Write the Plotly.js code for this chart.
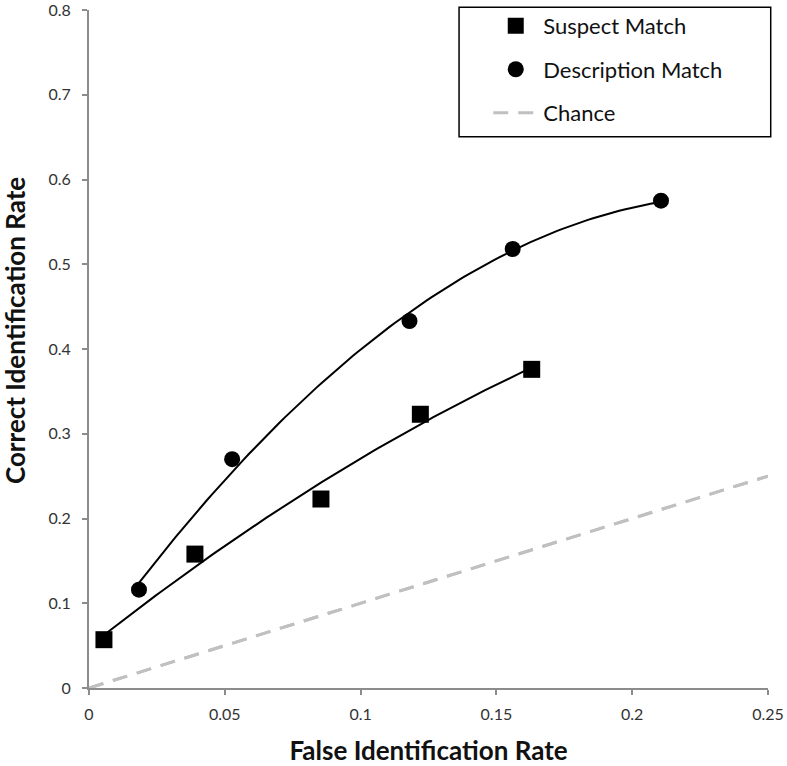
<!DOCTYPE html>
<html>
<head>
<meta charset="utf-8">
<script src="https://cdn.plot.ly/plotly-3.0.1.min.js"></script>
<style>html,body{margin:0;padding:0;background:#fff;}#chart{width:787px;height:766px;}</style>
</head>
<body>
<div id="chart"></div>
<script>
// Data
const suspectFalseId = [0.0055, 0.039, 0.0854, 0.122, 0.163];
const suspectCorrectId = [0.057, 0.158, 0.223, 0.323, 0.376];
const descriptionFalseId = [0.0184, 0.0527, 0.118, 0.156, 0.2106];
const descriptionCorrectId = [0.116, 0.270, 0.433, 0.518, 0.575];
const chanceX = [0, 0.25];
const chanceY = [0, 0.25];
const seriesNames = ["Suspect Match", "Description Match", "Chance"];
const xTitle = 'False Identification Rate';
const yTitle = 'Correct Identification Rate';

// Quadratic least-squares trendline (as in the original spreadsheet trendline)
function quadFit(xs, ys) {
  let s = [0,0,0,0,0], t = [0,0,0];
  for (let i = 0; i < xs.length; i++) {
    let p = 1;
    for (let k = 0; k < 5; k++) { s[k] += p; if (k < 3) t[k] += p * ys[i]; p *= xs[i]; }
  }
  const A = [[s[0],s[1],s[2],t[0]],[s[1],s[2],s[3],t[1]],[s[2],s[3],s[4],t[2]]];
  for (let i = 0; i < 3; i++) {
    for (let j = i + 1; j < 3; j++) {
      const f = A[j][i] / A[i][i];
      for (let k = i; k < 4; k++) A[j][k] -= f * A[i][k];
    }
  }
  const c = [0,0,0];
  for (let i = 2; i >= 0; i--) {
    let v = A[i][3];
    for (let k = i + 1; k < 3; k++) v -= A[i][k] * c[k];
    c[i] = v / A[i][i];
  }
  return c;
}
function trend(xs, ys) {
  const c = quadFit(xs, ys);
  const lo = Math.min(...xs), hi = Math.max(...xs);
  const tx = [], ty = [];
  for (let i = 0; i <= 100; i++) {
    const x = lo + (hi - lo) * i / 100;
    tx.push(x); ty.push(c[0] + c[1] * x + c[2] * x * x);
  }
  return {x: tx, y: ty};
}
const ts = trend(suspectFalseId, suspectCorrectId);
const td = trend(descriptionFalseId, descriptionCorrectId);

const traces = [
  {x: chanceX, y: chanceY, mode: 'lines', name: seriesNames[2], showlegend: false,
   line: {color: '#c0c0c0', width: 3, dash: '15px,10px'}, hoverinfo: 'skip'},
  {x: ts.x, y: ts.y, mode: 'lines', showlegend: false, line: {color: '#000', width: 2}, hoverinfo: 'skip'},
  {x: td.x, y: td.y, mode: 'lines', showlegend: false, line: {color: '#000', width: 2}, hoverinfo: 'skip'},
  {x: suspectFalseId, y: suspectCorrectId, mode: 'markers', name: seriesNames[0], legendgroup: 'a',
   marker: {symbol: 'square', size: 17, color: '#000'}},
  {x: descriptionFalseId, y: descriptionCorrectId, mode: 'markers', name: seriesNames[1], legendgroup: 'b',
   marker: {symbol: 'circle', size: 16, color: '#000'}},
  {x: chanceX, y: chanceY, mode: 'lines', name: seriesNames[2], legendgroup: 'c',
   line: {color: '#c0c0c0', width: 3, dash: '15px,10px'}, hoverinfo: 'skip'}
];

const fam = 'Lato, "Liberation Sans", sans-serif';
const tickFont = {family: fam, size: 16, color: '#333'};
const titleFont = {family: fam, size: 26, color: '#111', weight: 'bold'};

const layout = {
  width: 787, height: 766,
  margin: {l: 89, r: 19, t: 10, b: 78, autoexpand: false},
  paper_bgcolor: '#fff', plot_bgcolor: '#fff',
  showlegend: true,
  legend: {x: 0.588, y: 1.0076, xanchor: 'left', yanchor: 'top',
           font: {family: fam, size: 22, color: '#111'},
           bgcolor: 'rgba(0,0,0,0)', borderwidth: 0, tracegroupgap: 12, itemwidth: 45},
  xaxis: {range: [0, 0.25], tickvals: [0, 0.05, 0.1, 0.15, 0.2, 0.25],
          ticktext: ['0', '0.05', '0.1', '0.15', '0.2', '0.25'],
          showgrid: false, zeroline: false, showline: true, linecolor: '#8c8c8c', linewidth: 2,
          ticks: 'outside', ticklen: 5, tickcolor: '#8c8c8c', tickwidth: 2, tickfont: tickFont,
          ticklabelstandoff: 6, automargin: false, ticklabeloverflow: 'allow',
          title: {text: xTitle, font: titleFont, standoff: 25}},
  yaxis: {range: [0, 0.8], tickvals: [0, 0.1, 0.2, 0.3, 0.4, 0.5, 0.6, 0.7, 0.8],
          ticktext: ['0', '0.1', '0.2', '0.3', '0.4', '0.5', '0.6', '0.7', '0.8'],
          showgrid: false, zeroline: false, showline: true, linecolor: '#8c8c8c', linewidth: 2,
          ticks: 'outside', ticklen: 5, tickcolor: '#8c8c8c', tickwidth: 2, tickfont: tickFont,
          ticklabelstandoff: 8, automargin: false, ticklabeloverflow: 'allow'},
  annotations: [{text: yTitle, xref: 'paper', yref: 'paper', x: -0.109, y: 0.528,
                 xanchor: 'center', yanchor: 'middle', textangle: -90, showarrow: false, font: titleFont}],
  shapes: [{type: 'rect', xref: 'paper', yref: 'paper', x0: 0.545, x1: 1.004, y0: 0.813, y1: 1.004,
            line: {color: '#000', width: 1.5}, fillcolor: 'rgba(0,0,0,0)'}]
};

Plotly.newPlot('chart', traces, layout, {displayModeBar: false, staticPlot: true});
</script>
</body>
</html>
